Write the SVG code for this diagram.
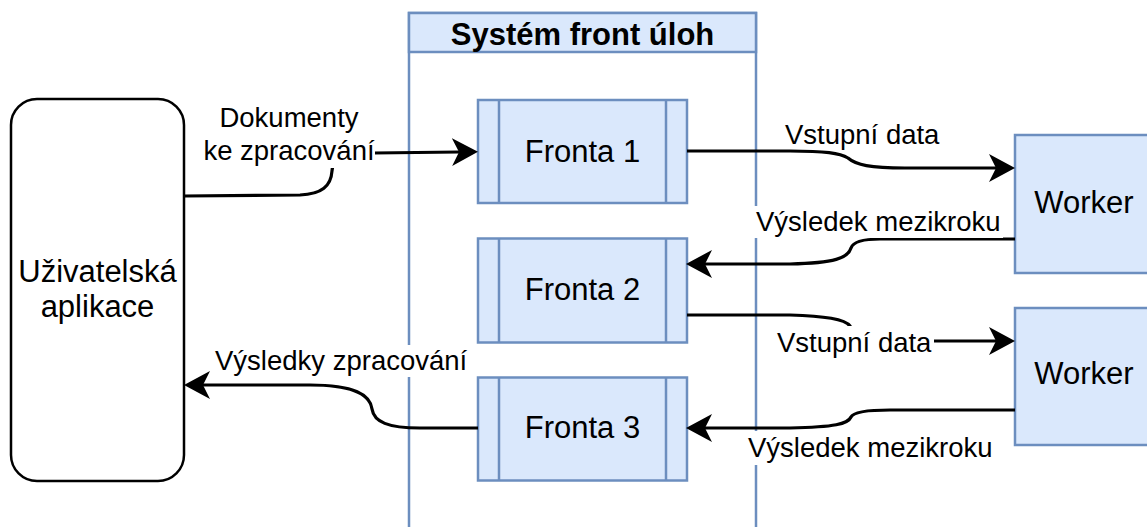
<svg xmlns="http://www.w3.org/2000/svg" width="1147" height="527" viewBox="0 0 1147 527">
<style>
.blue{fill:#dae8fc;stroke:#6c8ebf;stroke-width:2.5}
.t{font-family:"Liberation Sans",Arial,sans-serif;font-size:31px;fill:#000;text-anchor:middle}
.tb{font-family:"Liberation Sans",Arial,sans-serif;font-size:31px;font-weight:bold;fill:#000;text-anchor:middle}
.lbl{font-family:"Liberation Sans",Arial,sans-serif;font-size:27.5px;fill:#000}
.edge{fill:none;stroke:#000;stroke-width:3.2}
.bg{fill:#fff;stroke:none}
</style>
<defs>
<marker id="arr" markerUnits="userSpaceOnUse" markerWidth="30" markerHeight="30" refX="7" refY="14" orient="auto" viewBox="0 0 30 30">
<path d="M0,0 L26,14 L0,28 L7,14 Z" fill="#000"/>
</marker>
</defs>
<rect width="1147" height="527" fill="#fff"/>
<g id="container">
<rect x="409" y="13" width="347" height="540" fill="#fff" stroke="#6c8ebf" stroke-width="2.5"/>
<rect x="409" y="13" width="347" height="39" class="blue"/>
<text x="582.5" y="45" class="tb">Systém front úloh</text>
</g>
<g id="app">
<rect x="11" y="99" width="173" height="382" rx="26" ry="26" fill="#fff" stroke="#000" stroke-width="2.5"/>
<text x="97.5" y="282" class="t">Uživatelská</text>
<text x="97.5" y="317" class="t">aplikace</text>
</g>
<g id="fronta1">
<rect x="478" y="100" width="209" height="103" class="blue"/>
<line x1="499" y1="100" x2="499" y2="203" stroke="#6c8ebf" stroke-width="2.5"/>
<line x1="666" y1="100" x2="666" y2="203" stroke="#6c8ebf" stroke-width="2.5"/>
<text x="582.5" y="161.7" class="t">Fronta 1</text>
</g>
<g id="fronta2">
<rect x="478" y="238.5" width="209" height="104" class="blue"/>
<line x1="499" y1="238.5" x2="499" y2="342.5" stroke="#6c8ebf" stroke-width="2.5"/>
<line x1="666" y1="238.5" x2="666" y2="342.5" stroke="#6c8ebf" stroke-width="2.5"/>
<text x="582.5" y="300" class="t">Fronta 2</text>
</g>
<g id="fronta3">
<rect x="478" y="377.5" width="209" height="103" class="blue"/>
<line x1="499" y1="377.5" x2="499" y2="480.5" stroke="#6c8ebf" stroke-width="2.5"/>
<line x1="666" y1="377.5" x2="666" y2="480.5" stroke="#6c8ebf" stroke-width="2.5"/>
<text x="582.5" y="438.3" class="t">Fronta 3</text>
</g>
<g id="worker1">
<rect x="1015" y="135" width="140" height="138" class="blue"/>
<text x="1084" y="212.5" class="t">Worker</text>
</g>
<g id="worker2">
<rect x="1015" y="308" width="140" height="137" class="blue"/>
<text x="1084" y="384" class="t">Worker</text>
</g>
<g id="connectors">
<path class="edge" marker-end="url(#arr)" d="M184,196 L300,195 C322,194 331,186 332,171 C332,160 345,153 374,153 L459,152"/>
<path class="edge" marker-end="url(#arr)" d="M687,151 L790,151 C825,151 840,153 848,158 C856,165 870,168 905,168 L996,168"/>
<path class="edge" marker-end="url(#arr)" d="M1015,239 L880,239 C862,239 853,242 851,248 C848,258 835,263 790,264 L705,264"/>
<path class="edge" marker-end="url(#arr)" d="M687,315 L790,315 C825,316 845,319 850,326 L862,341 L996,341"/>
<path class="edge" marker-end="url(#arr)" d="M1015,410 L890,410 C862,410 853,413 851,417 C848,424 835,427 790,428 L705,428"/>
<path class="edge" marker-end="url(#arr)" d="M478,428 L420,428 C388,428 374,422 372,409 C370,395 355,385 310,385 L203,385"/>
</g>
<g id="labels">
<rect class="bg" x="204" y="103" width="171" height="65"/>
<text class="lbl" x="289" y="126.7" text-anchor="middle">Dokumenty</text>
<text class="lbl" x="289" y="160" text-anchor="middle">ke zpracování</text>
<rect class="bg" x="783" y="118" width="157" height="31"/>
<text class="lbl" x="785" y="144">Vstupní data</text>
<rect class="bg" x="754" y="206" width="249" height="32"/>
<text class="lbl" x="756" y="230.7">Výsledek mezikroku</text>
<rect class="bg" x="775" y="326" width="159" height="32"/>
<text class="lbl" x="777" y="351.7">Vstupní data</text>
<rect class="bg" x="746" y="431" width="248" height="34"/>
<text class="lbl" x="748" y="456.7">Výsledek mezikroku</text>
<rect class="bg" x="213" y="345" width="256" height="32"/>
<text class="lbl" x="215" y="370">Výsledky zpracování</text>
</g>
</svg>
